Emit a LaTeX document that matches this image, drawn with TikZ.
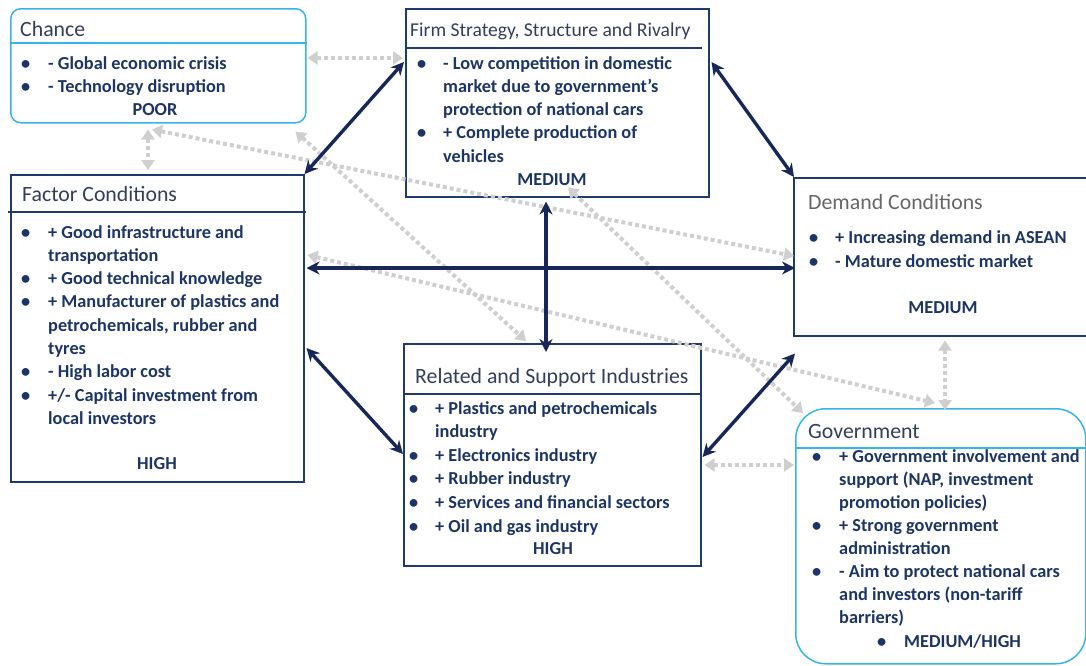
\documentclass[tikz,border=0pt]{standalone}
\usepackage{fontspec}
\setmainfont{Carlito}
\usetikzlibrary{arrows.meta,calc}

\definecolor{navy}{HTML}{172858}
\definecolor{boxline}{HTML}{1F3A6E}
\definecolor{skyline}{HTML}{35B4EE}
\definecolor{bodytext}{HTML}{1C3566}
\definecolor{headtext}{HTML}{333E5C}
\definecolor{demandhead}{HTML}{666666}
\definecolor{softgray}{HTML}{CFCFCF}

\tikzset{
  panel/.style={draw=boxline, line width=1.5pt, inner sep=0pt, anchor=north west},
  skypanel/.style={draw=skyline, line width=1.5pt, inner sep=0pt, anchor=north west, rounded corners=#1},
  rule/.style={draw=boxline, line width=1.3pt},
  skyrule/.style={draw=skyline, line width=1.3pt},
  heading/.style={font=\fontsize{#1}{24}\selectfont, text=headtext, inner sep=0pt, anchor=base west},
  heading/.default=21.8,
  items/.style={font=\fontsize{18.3}{#1}\selectfont\bfseries, text=bodytext, inner sep=0pt, anchor=base west},
  items/.default=23.3,
  grade/.style={font=\fontsize{18.3}{22}\selectfont\bfseries, text=bodytext, inner sep=0pt, anchor=base},
  link/.style={draw=navy, line width=3.4pt,
    {Stealth[length=13pt,width=13pt]}-{Stealth[length=13pt,width=13pt]}},
  cue/.style={draw=softgray, line width=4pt, dash pattern=on 4pt off 3pt,
    {Triangle[length=10pt,width=13pt]}-{Triangle[length=10pt,width=13pt]}},
}

\begin{document}
\begin{tikzpicture}[x=1pt,y=-1pt]
\useasboundingbox (0,0) rectangle (1086,665);

% ---- the six boxes ----
\node[skypanel=10pt, minimum width=295pt, minimum height=114pt] (chance) at (10,8) {};
\node[panel, minimum width=303pt, minimum height=188pt] (firm) at (405,8) {};
\node[panel, minimum width=293pt, minimum height=307pt] (factor) at (10,174) {};
\node[panel, minimum width=300pt, minimum height=158pt] (demand) at (793,177) {};
\node[panel, minimum width=297pt, minimum height=222pt] (related) at (403,343) {};
\node[skypanel=30pt, minimum width=290pt, minimum height=255pt] (government) at (795,408) {};

% ---- header rules ----
\draw[skyrule] ($(chance.north west)+(0,35)$) -- ($(chance.north east)+(0,35)$);
\draw[rule] ($(firm.north west)+(0,40)$) -- ($(firm.north east)+(-8,40)$);
\draw[rule] ($(factor.north west)+(-2,38)$) -- ($(factor.north east)+(1,38)$);
\draw[rule] ($(related.north west)+(0,51)$) -- ($(related.north east)+(0,51)$);
\draw[skyrule] ($(government.north west)+(0,40)$) -- ($(government.north east)+(0,40)$);

% ---- secondary (dotted) influences ----
\draw[cue] ($(chance.north east)+(1,50)$) -- ($(firm.north west)+(-2,50)$);
\draw[cue] ($(chance.south west)+(138,6)$) -- ($(factor.north west)+(138,-4)$);
\draw[cue] ($(chance.south west)+(142,6)$) -- ($(demand.north west)+(1,79)$);
\draw[cue] ($(chance.south east)+(-11,8)$) -- ($(related.north west)+(123,-2)$);
\draw[cue] ($(factor.north east)+(3,81)$) -- ($(government.north west)+(140,-5)$);
\draw[cue] ($(firm.south west)+(163,-10)$) -- ($(government.north west)+(8,5)$);
\draw[cue] ($(related.north east)+(3,122)$) -- ($(government.north west)+(-1,57)$);
\draw[cue] ($(demand.south west)+(152,4)$) -- ($(government.north west)+(150,2)$);

% ---- main (diamond) links ----
\draw[link] (factor.north east) -- ($(firm.north west)+(-1,54)$);
\draw[link] ($(firm.north east)+(2,54)$) -- ($(demand.north west)+(1,0)$);
\draw[link] ($(factor.north east)+(2,94)$) -- ($(demand.north west)+(2,91)$);
\draw[link] ($(firm.south west)+(141,4)$) -- ($(related.north west)+(143,9)$);
\draw[link] ($(factor.north east)+(2,174)$) -- ($(related.north west)+(0,111)$);
\draw[link] ($(related.north east)+(1,114)$) -- ($(demand.south west)+(2,17)$);

% ---- Chance ----
\node[heading] (chancetitle) at (20,36) {Chance};
\node[items] (chancelist) at (21,69) {\begin{tabular}[t]{@{}p{27pt}@{}l@{}}
\textbullet & - Global economic crisis\\
\textbullet & - Technology disruption
\end{tabular}};
\node[grade] (chancegrade) at (155,115) {POOR};

% ---- Firm strategy ----
\node[heading=19.6] (firmtitle) at (410,36) {Firm Strategy, Structure and Rivalry};
\node[items] (firmlist) at (417,69) {\begin{tabular}[t]{@{}p{26pt}@{}l@{}}
\textbullet & - Low competition in domestic\\
 & market due to government’s\\
 & protection of national cars\\
\textbullet & + Complete production of\\
 & vehicles
\end{tabular}};
\node[grade] (firmgrade) at (552,185) {MEDIUM};

% ---- Factor conditions ----
\node[heading] (factortitle) at (22,201) {Factor Conditions};
\node[items] (factorlist) at (21,238) {\begin{tabular}[t]{@{}p{27pt}@{}l@{}}
\textbullet & + Good infrastructure and\\
 & transportation\\
\textbullet & + Good technical knowledge\\
\textbullet & + Manufacturer of plastics and\\
 & petrochemicals, rubber and\\
 & tyres\\
\textbullet & - High labor cost\\
\textbullet & +/- Capital investment from\\
 & local investors
\end{tabular}};
\node[grade] (factorgrade) at (157,469) {HIGH};

% ---- Demand conditions ----
\node[heading, text=demandhead] (demandtitle) at (808,209) {Demand Conditions};
\node[items=24] (demandlist) at (809,243) {\begin{tabular}[t]{@{}p{26pt}@{}l@{}}
\textbullet & + Increasing demand in ASEAN\\
\textbullet & - Mature domestic market
\end{tabular}};
\node[grade] (demandgrade) at (943,313) {MEDIUM};

% ---- Related and support industries ----
\node[heading] (relatedtitle) at (415,383) {Related and Support Industries};
\node[items=23.6] (relatedlist) at (409,414) {\begin{tabular}[t]{@{}p{26pt}@{}l@{}}
\textbullet & + Plastics and petrochemicals\\
 & industry\\
\textbullet & + Electronics industry\\
\textbullet & + Rubber industry\\
\textbullet & + Services and financial sectors\\
\textbullet & + Oil and gas industry
\end{tabular}};
\node[grade] (relatedgrade) at (553,554) {HIGH};

% ---- Government ----
\node[heading] (govtitle) at (808,438) {Government};
\node[items=23] (govlist) at (812,462) {\begin{tabular}[t]{@{}p{27pt}@{}l@{}}
\textbullet & + Government involvement and\\
 & support (NAP, investment\\
 & promotion policies)\\
\textbullet & + Strong government\\
 & administration\\
\textbullet & - Aim to protect national cars\\
 & and investors (non-tariff\\
 & barriers)
\end{tabular}};
\node[items] (govgrade) at (877,647) {\begin{tabular}[t]{@{}p{27pt}@{}l@{}}
\textbullet & MEDIUM/HIGH
\end{tabular}};
\end{tikzpicture}
\end{document}
